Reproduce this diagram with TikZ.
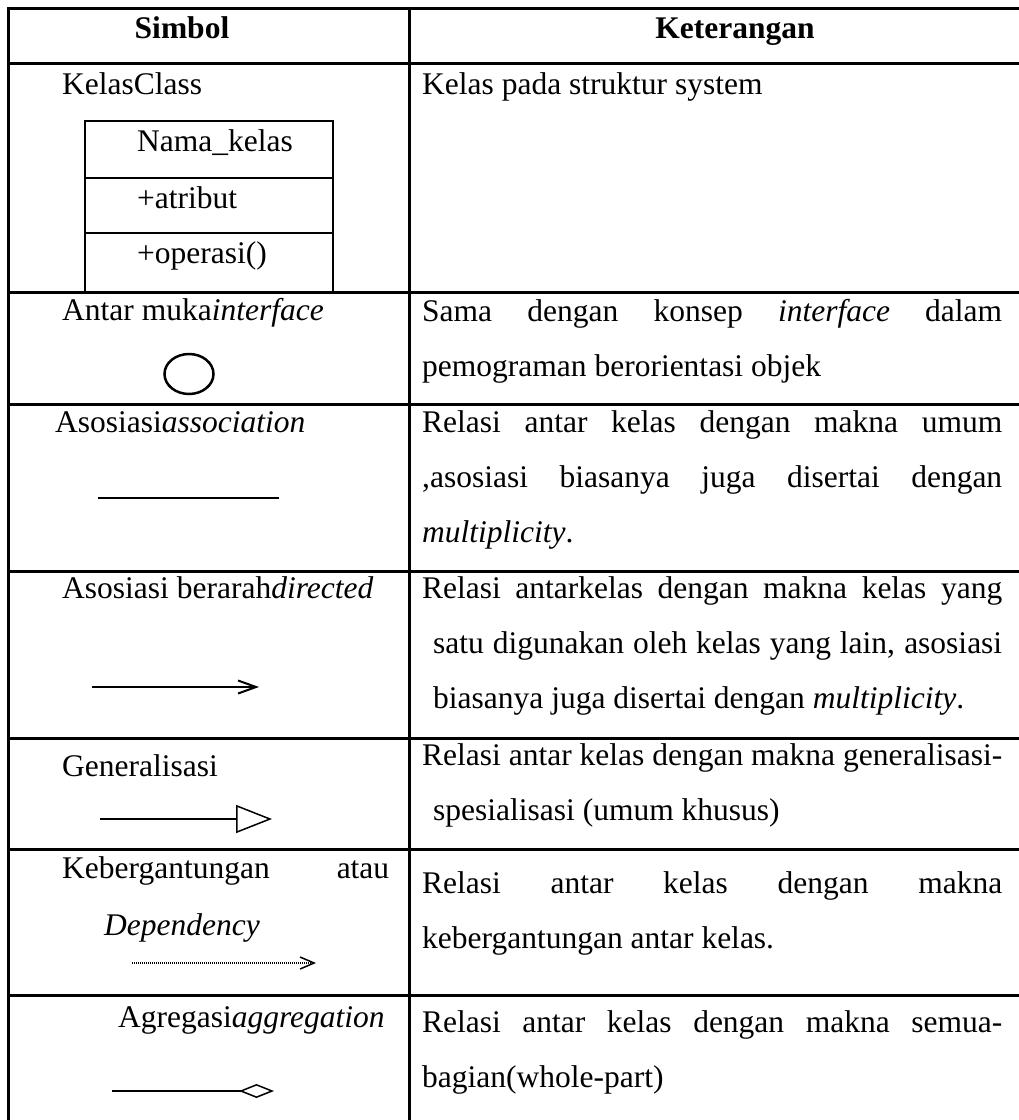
\documentclass[tikz,border=0pt]{standalone}
\usepackage{fontspec}
\setmainfont{Liberation Serif}
\usetikzlibrary{arrows.meta, shapes.geometric}

\begin{document}
\begin{tikzpicture}[
    x=1pt, y=-1pt,
    grid/.style={line width=3pt, line cap=rect},
    txt/.style={anchor=base west, inner sep=0pt, font=\fontsize{31.5}{55}\selectfont},
    head/.style={anchor=base, inner sep=0pt, font=\fontsize{31.5}{55}\selectfont\bfseries},
    desc/.style={txt, text width=580pt, align=justify},
    umlbox/.style={line width=2.3pt},
    sym/.style={line width=2pt}
  ]
  \useasboundingbox (0,0) rectangle (1019,1120);

  \foreach \y in {8,63,292,404,571,738,849,995}
    \draw[grid] (8,\y) -- (1025,\y);
  \draw[grid] (8,8) -- (8,1125);
  \draw[grid] (409,8) -- (409,1125);

  \node[head] (simbol) at (182,38) {Simbol};
  \node[head] (keterangan) at (735,38) {Keterangan};

  % kelas
  \node[txt] (kelas) at (62,94) {KelasClass};
  \draw[umlbox] (85,121) rectangle (333,292);
  \draw[umlbox] (85,178) -- (333,178);
  \draw[umlbox] (85,233) -- (333,233);
  \node[txt] (nama) at (137,151) {Nama\_kelas};
  \node[txt] (atribut) at (137,208) {+atribut};
  \node[txt] (operasi) at (137,263) {+operasi()};
  \node[desc] (d1) at (422,94) {Kelas pada struktur system};

  % antar muka
  \node[txt] (muka) at (62,320) {Antar muka\textit{interface}};
  \node[draw, ellipse, line width=2.5pt, minimum width=49pt, minimum height=40pt,
    inner sep=0pt] (iface) at (189,374) {};
  \node[desc] (d2) at (422,321) {Sama dengan konsep \textit{interface} dalam\linebreak
    pemograman berorientasi objek};

  % asosiasi
  \node[txt] (asosiasi) at (55,432) {Asosiasi\textit{association}};
  \coordinate (asA) at (98,498);
  \coordinate (asB) at (279,498);
  \draw[sym] (asA) -- (asB);
  \node[desc] (d3) at (422,432) {Relasi antar kelas dengan makna umum\linebreak
    ,asosiasi biasanya juga disertai dengan\linebreak \textit{multiplicity}.};

  % asosiasi berarah
  \node[txt] (berarah) at (62,598) {Asosiasi berarah\textit{directed}};
  \coordinate (dirA) at (92,687);
  \coordinate (dirB) at (259,687);
  \draw[sym, -{Straight Barb[length=18pt, width=13pt]}] (dirA) -- (dirB);
  \node[desc] (d4) at (422,598) {Relasi antarkelas dengan makna kelas yang\linebreak
    \hspace*{11pt}satu digunakan oleh kelas yang lain, asosiasi\linebreak
    \hspace*{11pt}biasanya juga disertai dengan \textit{multiplicity}.};

  % generalisasi
  \node[txt] (general) at (62,776) {Generalisasi};
  \coordinate (genA) at (100,819);
  \coordinate (genB) at (272,819);
  \draw[sym, -{Triangle[open, length=36pt, width=28pt, line width=1.5pt]}] (genA) -- (genB);
  \node[desc] (d5) at (422,765) {Relasi antar kelas dengan makna generalisasi-\linebreak
    \hspace*{11pt}spesialisasi (umum khusus)};

  % kebergantungan
  \node[txt] (kebergantungan) at (62,878) {\hbox to 327pt{Kebergantungan\hfill atau}};
  \node[txt] (dependency) at (104,935) {\textit{Dependency}};
  \coordinate (depA) at (132,963);
  \coordinate (depB) at (316,963);
  \draw[line width=1.5pt, dash pattern=on 1pt off 1pt,
    -{Straight Barb[length=14pt, width=12pt, line width=1.5pt]}] (depA) -- (depB);
  \node[desc] (d6) at (422,893) {Relasi antar kelas dengan makna\linebreak
    kebergantungan antar kelas.};

  % agregasi
  \node[txt] (agregasi) at (118,1027) {Agregasi\textit{aggregation}};
  \coordinate (agA) at (112,1091);
  \coordinate (agB) at (274,1091);
  \draw[line width=2.7pt, -{Diamond[open, length=35pt, width=14pt, line width=1.5pt]}] (agA) -- (agB);
  \node[desc] (d7) at (422,1032) {Relasi antar kelas dengan makna semua-\linebreak
    bagian(whole-part)};
\end{tikzpicture}
\end{document}
